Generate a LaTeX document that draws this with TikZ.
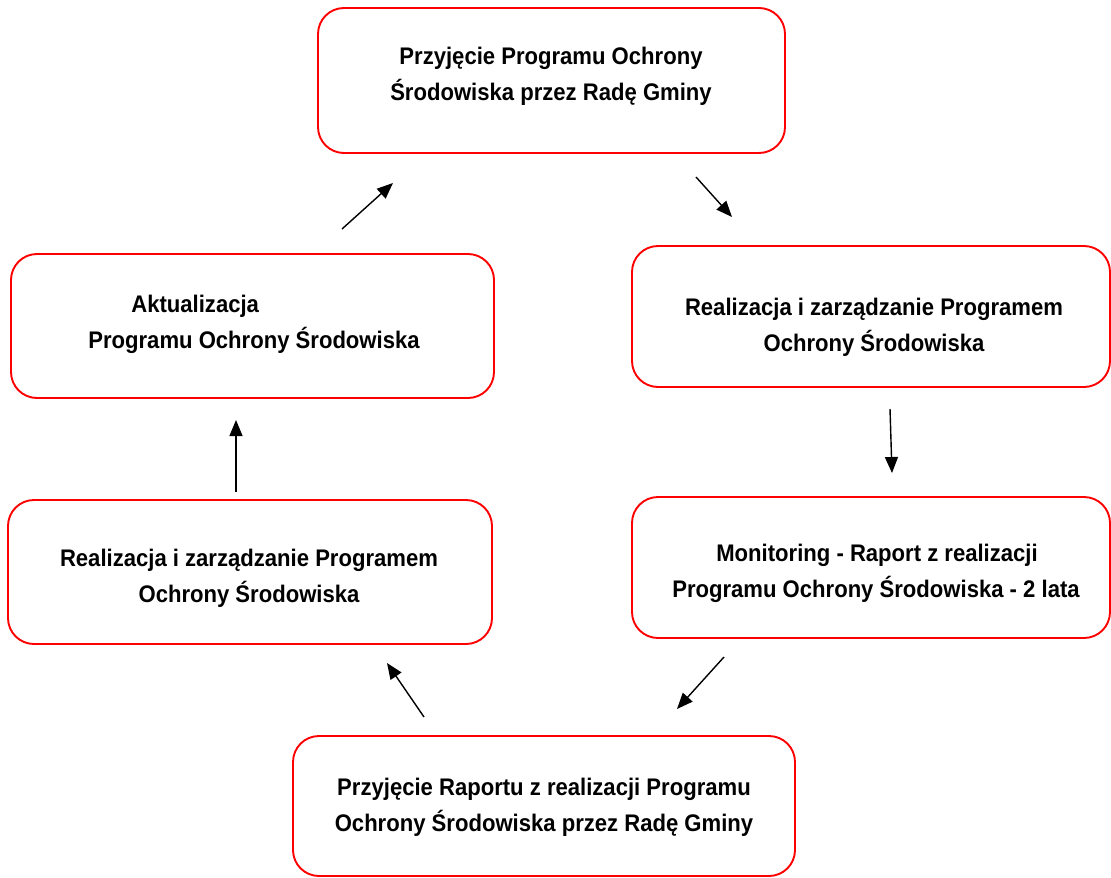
\documentclass[tikz,border=0pt]{standalone}
\usepackage{fontspec}
\setmainfont{Liberation Sans}[FakeStretch=0.92]
\usetikzlibrary{arrows.meta}
\begin{document}
\begin{tikzpicture}[x=1pt,y=-1pt,
  box/.style={draw=red,line width=1.9pt,rounded corners=26pt,inner sep=0pt},
  lbl/.style={font=\fontsize{24}{36}\selectfont\bfseries,inner sep=0pt},
  arr/.style={line width=1.4pt,-{Triangle[length=16pt,width=13pt]}}]
\useasboundingbox (0,0) rectangle (1111,878);
% boxes
\node[box,minimum width=467pt,minimum height=145pt] (top) at (551.5,80.5) {};
\node[box,minimum width=478pt,minimum height=141pt] (ru) at (871,316.5) {};
\node[box,minimum width=483pt,minimum height=144pt] (lu) at (252.5,326) {};
\node[box,minimum width=484pt,minimum height=144pt] (ll) at (250,572) {};
\node[box,minimum width=478pt,minimum height=141pt] (rl) at (871,567.5) {};
\node[box,minimum width=502pt,minimum height=140pt] (bot) at (544,806) {};
% labels
\node[lbl,align=center] (ttop) at (551,76) {Przyjęcie Programu Ochrony\\Środowiska przez Radę Gminy};
\node[lbl,align=center] (tru) at (874,327) {Realizacja i zarządzanie Programem\\Ochrony Środowiska};
\node[lbl,align=left] (tlu) at (254,324) {\hspace*{43pt}Aktualizacja\\Programu Ochrony Środowiska};
\node[lbl,align=center] (tll) at (249,578) {Realizacja i zarządzanie Programem\\Ochrony Środowiska};
\node[lbl,align=left] (trl) at (876,573) {\hspace*{44pt}Monitoring - Raport z realizacji\\Programu Ochrony Środowiska - 2 lata};
\node[lbl,align=center] (tbot) at (544,807) {Przyjęcie Raportu z realizacji Programu\\Ochrony Środowiska przez Radę Gminy};
% arrow ends
\coordinate (a1s) at (342,229); \coordinate (a1e) at (393,183);
\coordinate (a2s) at (696,177); \coordinate (a2e) at (732,217);
\coordinate (a3s) at (890,409); \coordinate (a3e) at (892,473);
\coordinate (a4s) at (724,657); \coordinate (a4e) at (677,709);
\coordinate (a5s) at (424,717); \coordinate (a5e) at (387,663);
\coordinate (a6s) at (236,492); \coordinate (a6e) at (236,420);
\draw[arr] (a1s) -- (a1e);
\draw[arr] (a2s) -- (a2e);
\draw[arr] (a3s) -- (a3e);
\draw[arr] (a4s) -- (a4e);
\draw[arr] (a5s) -- (a5e);
\draw[arr] (a6s) -- (a6e);
\end{tikzpicture}
\end{document}
